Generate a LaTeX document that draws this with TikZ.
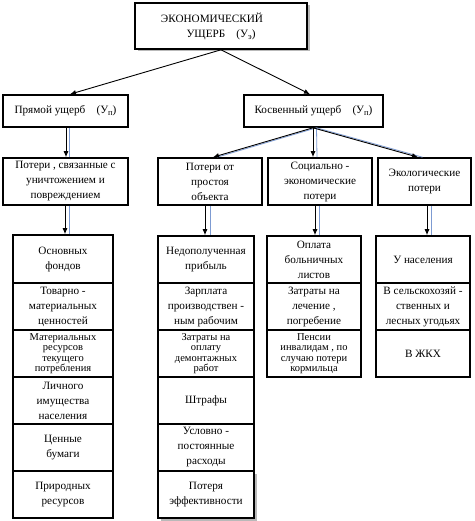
\documentclass[tikz,border=0pt]{standalone}
\usepackage{fontspec}
\setmainfont{Liberation Serif}
\usetikzlibrary{arrows.meta,shadows}
\definecolor{lineblue}{RGB}{125,155,210}
\newcommand{\mysub}[1]{\raisebox{-2pt}{\fontsize{8.5}{8.5}\selectfont #1}}
\begin{document}
\begin{tikzpicture}[x=1pt,y=-1pt,
  box/.style={draw,line width=1.6pt,inner sep=1pt,align=center,font=\fontsize{11.2}{15}\selectfont},
  tight/.style={font=\fontsize{10.5}{10.5}\selectfont},
  arr/.style={line width=0.9pt,-{Latex[length=6pt,width=5pt]}},
  blu/.style={draw=lineblue,line width=0.8pt},
  shad/.style={drop shadow={shadow xshift=2.5pt,shadow yshift=-2.5pt,fill=gray!55,opacity=1}}
]
\useasboundingbox (0,0) rectangle (474,521);
% top
\node[box,shad,fill=white,minimum width=172pt,minimum height=46pt] (top) at (221,26)
  {ЭКОНОМИЧЕСКИЙ\hspace*{18pt}\\УЩЕРБ\quad(У\mysub{э})};
% level 1
\node[box,minimum width=125pt,minimum height=32pt] (pr) at (65.5,111) {Прямой ущерб\quad(У\mysub{п})};
\node[box,minimum width=139pt,minimum height=32pt] (ko) at (313.5,111) {Косвенный ущерб\quad(У\mysub{п})};
% level 2
\node[box,minimum width=125pt,minimum height=47pt] (p1) at (65.5,181.5) {Потери , связанные с\\уничтожением и\\повреждением};
\node[box,minimum width=104pt,minimum height=47pt] (p2) at (210,181.5) {Потери от\\простоя\\объекта};
\node[box,minimum width=104pt,minimum height=47pt] (p3) at (320,181.5) {Социально -\\экономические\\потери};
\node[box,minimum width=93pt,minimum height=47pt] (p4) at (424.5,181.5) {Экологические\\потери};
% column 1
\node[box,minimum width=100pt,minimum height=48pt] (c1a) at (63,259) {Основных\\фондов};
\node[box,minimum width=100pt,minimum height=47pt] (c1b) at (63,306.5) {Товарно -\\материальных\\ценностей};
\node[box,tight,minimum width=100pt,minimum height=47pt] (c1c) at (63,353.5) {Материальных\\ресурсов\\текущего\\потребления};
\node[box,minimum width=100pt,minimum height=47pt] (c1d) at (63,400.5) {Личного\\имущества\\населения};
\node[box,minimum width=100pt,minimum height=47pt] (c1e) at (63,447.5) {Ценные\\бумаги};
\node[box,minimum width=100pt,minimum height=47pt] (c1f) at (63,494.5) {Природных\\ресурсов};
% column 2
\node[box,minimum width=96pt,minimum height=47pt] (c2a) at (206,259.5) {Недополученная\\прибыль};
\node[box,minimum width=96pt,minimum height=47pt] (c2b) at (206,306.5) {Зарплата\\производствен -\\ным рабочим};
\node[box,tight,minimum width=96pt,minimum height=47pt] (c2c) at (206,353.5) {Затраты на\\оплату\\демонтажных\\работ};
\node[box,minimum width=96pt,minimum height=47pt] (c2d) at (206,400.5) {Штрафы};
\node[box,minimum width=96pt,minimum height=47pt] (c2e) at (206,447.5) {Условно -\\постоянные\\расходы};
\node[box,shad,fill=white,minimum width=96pt,minimum height=47pt] (c2f) at (206,494.5) {Потеря\\эффективности};
% column 3
\node[box,minimum width=94pt,minimum height=47pt] (c3a) at (314,259.5) {Оплата\\больничных\\листов};
\node[box,minimum width=94pt,minimum height=47pt] (c3b) at (314,306.5) {Затраты на\\лечение ,\\погребение};
\node[box,tight,minimum width=94pt,minimum height=47pt] (c3c) at (314,353.5) {Пенсии\\инвалидам , по\\случаю потери\\кормильца};
% column 4
\node[box,minimum width=94pt,minimum height=47pt] (c4a) at (423,259.5) {У населения};
\node[box,minimum width=94pt,minimum height=47pt] (c4b) at (423,306.5) {В сельскохозяй -\\ственных и\\лесных угодьях};
\node[box,minimum width=94pt,minimum height=47pt] (c4c) at (423,353.5) {В ЖКХ};
% arrows from top
\draw[arr] (top.south) -- ([xshift=4.5pt]pr.north);
\draw[arr] (top.south) -- ([xshift=-3.5pt]ko.north);
% direct
\draw[blu] ([xshift=4pt]pr.south) -- ([xshift=4pt]pr.south |- p1.north);
\draw[arr] ([xshift=0.5pt]pr.south) -- ([xshift=0.5pt]pr.south |- p1.north);
% indirect
\coordinate (ks) at ([xshift=-0.5pt]ko.south);
\coordinate (kb) at ([xshift=3pt]ko.south);
\draw[blu] (kb) -- ([xshift=7pt]p2.north);
\draw[blu] (kb) -- ([xshift=-3pt]p3.north);
\draw[blu] (kb) -- ([xshift=-2pt]p4.north);
\draw[arr] (ks) -- ([xshift=3pt]p2.north);
\draw[arr] (ks) -- ([xshift=-7pt]p3.north);
\draw[arr] (ks) -- ([xshift=-6.5pt]p4.north);
% level 2 to columns
\draw[blu] ([xshift=6pt]c1a.north |- p1.south) -- ([xshift=6pt]c1a.north);
\draw[arr] ([xshift=2pt]c1a.north |- p1.south) -- ([xshift=2pt]c1a.north);
\draw[blu] ([xshift=4pt]c2a.north |- p2.south) -- ([xshift=4pt]c2a.north);
\draw[arr] ([xshift=-1pt]c2a.north |- p2.south) -- ([xshift=-1pt]c2a.north);
\draw[blu] ([xshift=5pt]c3a.north |- p3.south) -- ([xshift=5pt]c3a.north);
\draw[arr] ([xshift=1pt]c3a.north |- p3.south) -- ([xshift=1pt]c3a.north);
\draw[blu] ([xshift=8pt]c4a.north |- p4.south) -- ([xshift=8pt]c4a.north);
\draw[arr] ([xshift=4pt]c4a.north |- p4.south) -- ([xshift=4pt]c4a.north);
\end{tikzpicture}
\end{document}
